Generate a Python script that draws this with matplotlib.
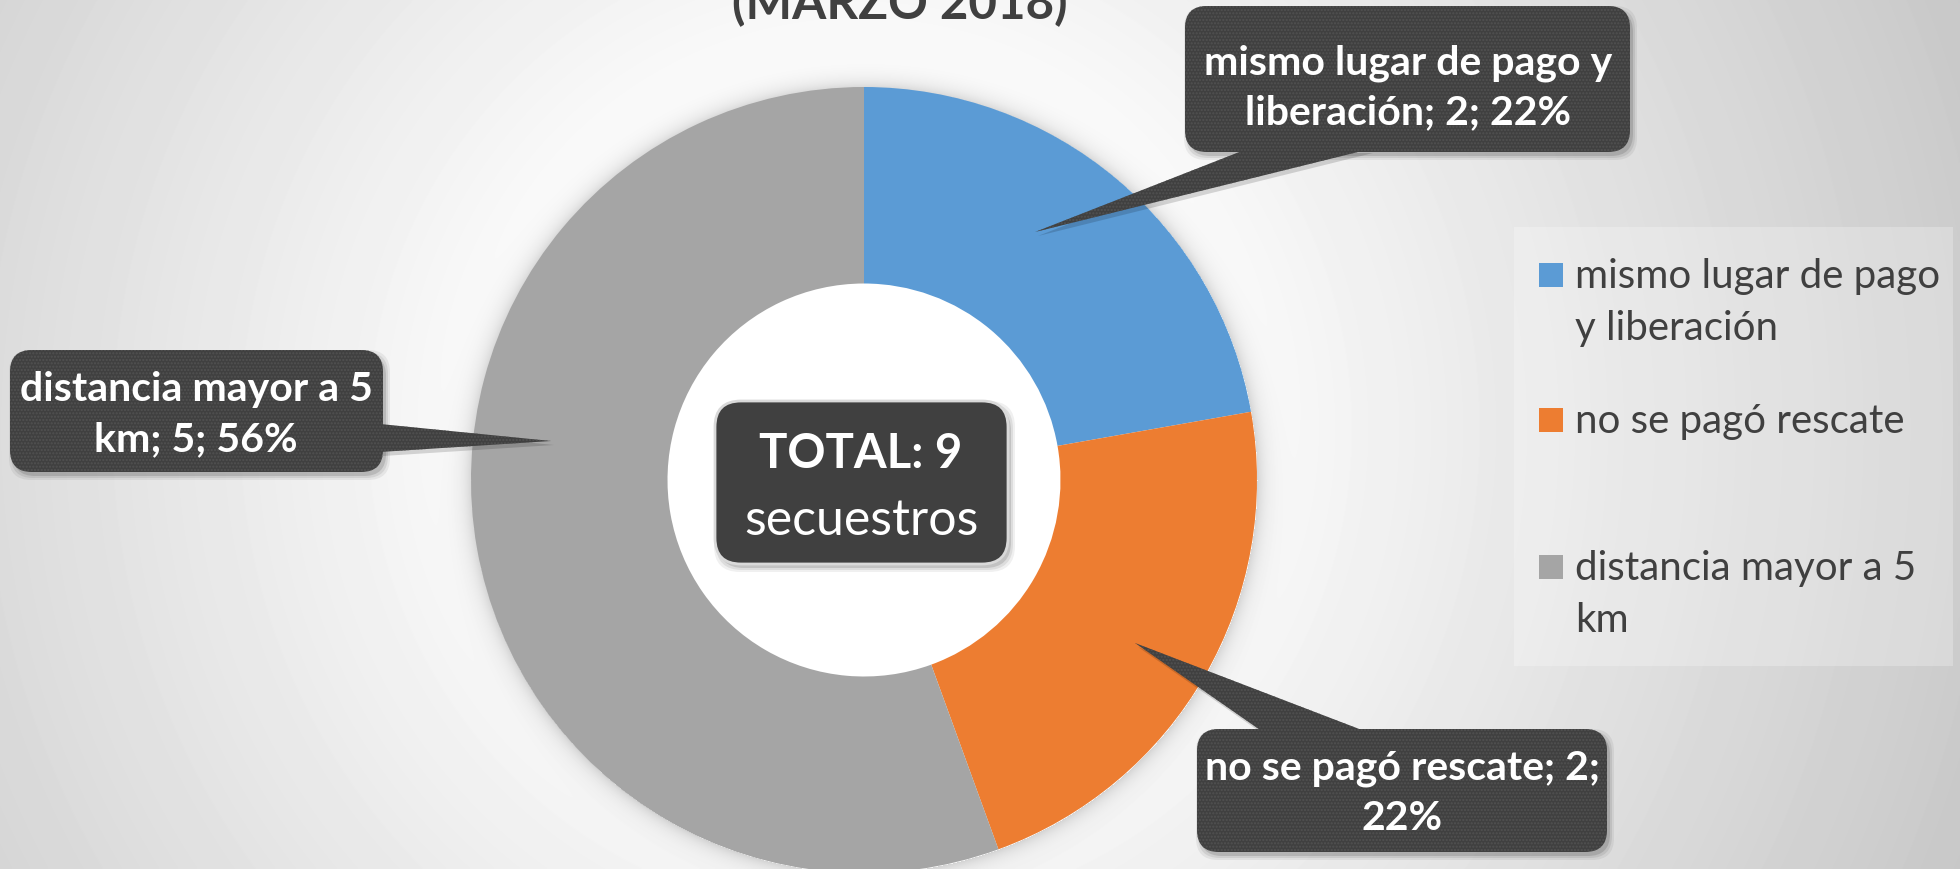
import numpy as np
import matplotlib
matplotlib.use('Agg')
from matplotlib import pyplot as plt
from matplotlib.patches import FancyBboxPatch, Polygon, Rectangle

# datos
categorias = ['mismo lugar de pago y liberación', 'no se pagó rescate', 'distancia mayor a 5 km']
valores = [2, 2, 5]
colores = ['#5B9BD5', '#ED7D31', '#A5A5A5']
etiquetas_leyenda = ['mismo lugar de pago\ny liberación', 'no se pagó rescate', 'distancia mayor a 5\nkm']
etiquetas_callout = ['mismo lugar de pago y\nliberación; 2; 22%',
                     'no se pagó rescate; 2;\n22%',
                     'distancia mayor a 5\nkm; 5; 56%']
titulo = '(MARZO 2018)'
total_txt = 'TOTAL: 9'
total_sub = 'secuestros'

W, H = 1960, 870
cx, cy, R = 864, 481, 393
OSCURO = '#404040'
FUENTE = ['Lato', 'DejaVu Sans']

fig = plt.figure(figsize=(19.6, 8.7), dpi=100)
ax = fig.add_axes([0, 0, 1, 1])

# fondo con degradado radial y sombra suave del anillo
yy, xx = np.mgrid[0:H, 0:W]
d = np.hypot(xx - 860, yy - 430)
fondo = 1 - 0.22 * np.clip((d - 300) / 900, 0, 1)
dp = np.hypot(xx - cx, yy - cy) - R
fondo = fondo - 0.14 * np.exp(-np.clip(dp, 0, None) / 9) * (dp > 0)
ax.imshow(fondo, cmap='gray', vmin=0, vmax=1, extent=(0, W, H, 0),
          zorder=0, interpolation='bilinear')

# eje y invertido -> counterclock=True se ve en sentido horario
wedges, _ = ax.pie(valores, colors=colores, startangle=-90, counterclock=True,
                   radius=R, center=(cx, cy),
                   wedgeprops=dict(width=R * 0.5, linewidth=0))
for w in wedges:
    w.set_zorder(2)
ax.set_xlim(0, W)
ax.set_ylim(H, 0)
ax.set_aspect('equal')
ax.axis('off')


def caja(x0, y0, x1, y1, punta=None, base=None, borde=None, r=22):
    # sombra
    for k, a in [(4, 0.06), (2, 0.08), (0, 0.12)]:
        s = FancyBboxPatch((x0 + 3, y0 + 4), x1 - x0, y1 - y0,
                           boxstyle='round,pad=%d,rounding_size=%d' % (k, r),
                           facecolor='black', edgecolor='none', alpha=a, zorder=3)
        ax.add_patch(s)
    if punta is not None:
        tri = [base[0], base[1], punta]
        ax.add_patch(Polygon([(p[0] + 3, p[1] + 4) for p in tri], closed=True,
                             facecolor='black', edgecolor='none', alpha=0.15, zorder=3))
        ax.add_patch(Polygon(tri, closed=True, facecolor=OSCURO, edgecolor='none', zorder=4))
        ax.add_patch(Polygon(tri, closed=True, fill=False, hatch='.....', edgecolor='#525252',
                             linewidth=0, zorder=4))
    p = FancyBboxPatch((x0, y0), x1 - x0, y1 - y0,
                       boxstyle='round,pad=0,rounding_size=%d' % r,
                       facecolor=OSCURO, edgecolor=borde if borde else 'none',
                       linewidth=2 if borde else 0, zorder=4)
    ax.add_patch(p)
    if borde is None:
        ax.add_patch(FancyBboxPatch((x0, y0), x1 - x0, y1 - y0,
                                    boxstyle='round,pad=0,rounding_size=%d' % r,
                                    fill=False, hatch='.....', edgecolor='#525252',
                                    linewidth=0, zorder=4))


# callouts
caja(1185, 7, 1630, 153, punta=(1035, 233), base=((1247, 150), (1370, 150)))
caja(10, 351, 383, 473, punta=(551, 442), base=((380, 425), (380, 453)))
caja(1197, 730, 1607, 853, punta=(1135, 644), base=((1263, 733), (1367, 733)))

posiciones = [(1408, 74), (1402, 780), (196, 401)]
for txt, (x, y) in zip(etiquetas_callout, posiciones):
    for j, linea in enumerate(txt.split('\n')):
        ax.text(x, y + j * 50, linea, ha='center', va='baseline', color='white',
                fontsize=29.5, fontweight='bold', family=FUENTE, zorder=5)

# caja central
caja(715, 402, 1008, 565, borde='#d9d9d9', r=26)
ax.text(861, 468, total_txt, ha='center', va='baseline', color='white',
        fontsize=34, fontweight='bold', family=FUENTE, zorder=5)
ax.text(861, 535, total_sub, ha='center', va='baseline', color='white',
        fontsize=36, family=FUENTE, zorder=5)

# titulo (cortado arriba)
ax.text(900, 19, titulo, ha='center', va='baseline', color=OSCURO,
        fontsize=35.5, fontweight='bold', family=FUENTE, zorder=5)

# leyenda
ax.add_patch(Rectangle((1514, 228), 1953 - 1514, 667 - 228, facecolor='white',
                       alpha=0.25, edgecolor='none', zorder=1))
bases = [288, 433, 580]
for lab, col, yb in zip(etiquetas_leyenda, colores, bases):
    ax.add_patch(Rectangle((1539, yb - 24), 24, 24, facecolor=col, edgecolor='none', zorder=5))
    for j, linea in enumerate(lab.split('\n')):
        ax.text(1575, yb + j * 52, linea, ha='left', va='baseline', color=OSCURO,
                fontsize=29, family=FUENTE, zorder=5)

fig.savefig('out.png', dpi=100)
